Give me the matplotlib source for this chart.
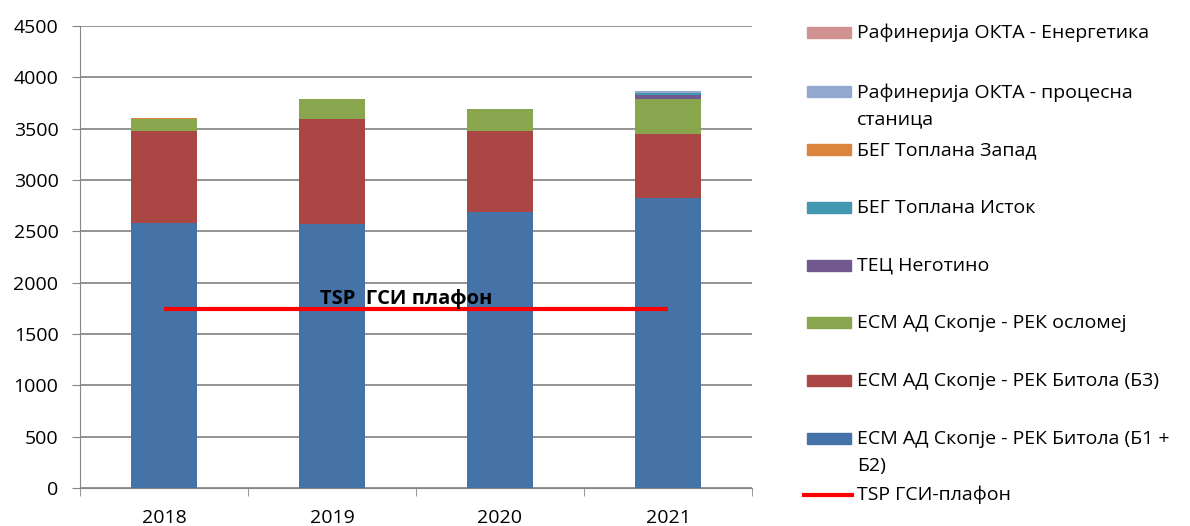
import matplotlib
matplotlib.use("Agg")
import matplotlib.pyplot as plt
from matplotlib.patches import Rectangle
from matplotlib.lines import Line2D
import numpy as np

plt.rcParams['font.family'] = ['Open Sans', 'DejaVu Sans']

years = ['2018', '2019', '2020', '2021']
b1b2 = [2581, 2571, 2688, 2828]
b3 = [896, 1023, 789, 624]
oslomej = [117, 195, 214, 334]
negotino = [0, 0, 0, 42]
toplana_istok = [0, 0, 0, 15]
toplana_zapad = [10, 0, 0, 6]
okta_proc = [0, 0, 0, 15]
okta_energ = [0, 0, 0, 3]
tsp_ceiling = [1743, 1743, 1743, 1743]

series = [
    ('ЕСМ АД Скопје - РЕК Битола (Б1 +\nБ2)', b1b2, '#4572A7'),
    ('ЕСМ АД Скопје - РЕК Битола (Б3)', b3, '#AA4643'),
    ('ЕСМ АД Скопје - РЕК осломеј', oslomej, '#89A54E'),
    ('ТЕЦ Неготино', negotino, '#71588F'),
    ('БЕГ Топлана Исток', toplana_istok, '#4198AF'),
    ('БЕГ Топлана Запад', toplana_zapad, '#DB843D'),
    ('Рафинерија ОКТА - процесна\nстаница', okta_proc, '#93A9CF'),
    ('Рафинерија ОКТА - Енергетика', okta_energ, '#D19392'),
]
line_label = 'TSP ГСИ-плафон'
FS = 14

fig = plt.figure(figsize=(11.9, 5.26), dpi=100)
ax = fig.add_axes([80/1190, 38/526, 672/1190, 462/526])

x = np.arange(len(years))
bottom = np.zeros(len(years))
for name, vals, col in series:
    ax.bar(x, vals, width=0.39, bottom=bottom, color=col, zorder=3)
    bottom += np.array(vals)

ax.plot([x[0], x[-1]], [tsp_ceiling[0], tsp_ceiling[-1]], color='#FF0000', lw=3, zorder=4,
        solid_capstyle='butt')
ax.text(1.44, 1841, 'TSP  ГСИ плафон', ha='center', va='center', fontsize=14.5,
        fontweight='bold', zorder=5)

ax.set_xlim(-0.5, 3.5)
ax.set_ylim(0, 4500)
ax.set_yticks(np.arange(0, 4501, 500))
ax.tick_params(axis='y', labelsize=FS, length=5.5, color='#868686', pad=10)
ax.set_xticks(x)
ax.set_xticklabels(years, fontsize=FS)
ax.set_xticks(np.arange(-0.5, 3.6, 1), minor=True)
ax.tick_params(axis='x', which='major', length=0, pad=15)
ax.tick_params(axis='x', which='minor', length=5.5, color='#868686')
ax.yaxis.grid(True, color='#808080', lw=1.2, zorder=0)
ax.set_axisbelow(True)
for s in ['top', 'right']:
    ax.spines[s].set_visible(False)
for s in ['left', 'bottom']:
    ax.spines[s].set_color('#868686')

# legend drawn manually
ys = [33, 92, 150, 208, 266, 323, 381, 439]
for (name, vals, col), yp in zip(series[::-1], ys):
    fig.patches.append(Rectangle((807/1190, 1 - (yp + 5)/526), 44/1190, 11/526,
                                 transform=fig.transFigure, color=col))
    if '\n' in name:
        fig.text(857/1190, 1 - (yp - 9)/526, name, ha='left', va='top',
                 fontsize=FS, linespacing=1.65, transform=fig.transFigure)
    else:
        fig.text(857/1190, 1 - yp/526, name, ha='left', va='center',
                 fontsize=FS, transform=fig.transFigure)
fig.lines.append(Line2D([804/1190, 852/1190], [1 - 495/526, 1 - 495/526],
                        transform=fig.transFigure, color='#FF0000', lw=3))
fig.text(857/1190, 1 - 495/526, line_label, ha='left', va='center', fontsize=FS)

fig.savefig('out.png', dpi=100)
